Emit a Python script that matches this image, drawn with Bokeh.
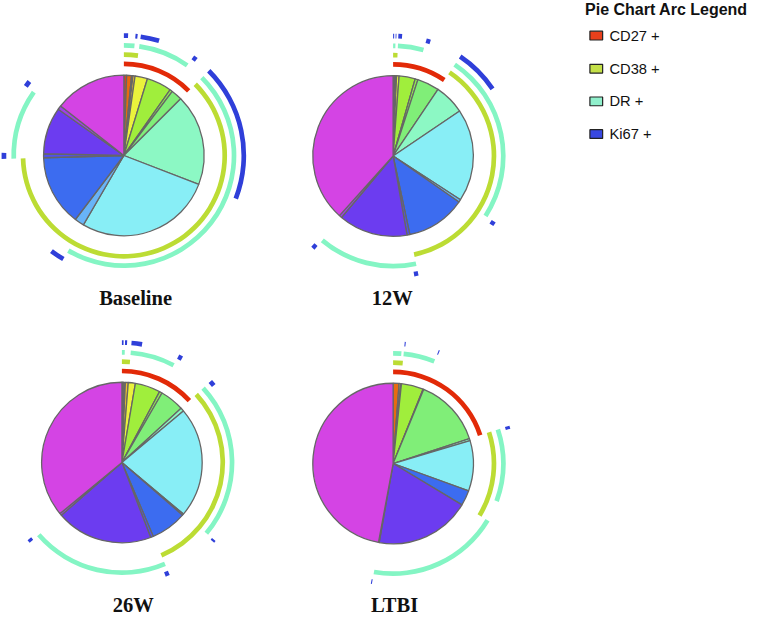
import numpy as np
from bokeh.plotting import figure
from bokeh.models import Range1d, ColumnDataSource
from bokeh.core.properties import value
from bokeh.embed import file_html
from bokeh.resources import INLINE

# 16 marker combinations (CD27, CD38, DR, Ki67)
categories = [
    "CD27+CD38+DR+Ki67+", "CD27+CD38+DR+Ki67-", "CD27+CD38+DR-Ki67+", "CD27+CD38+DR-Ki67-",
    "CD27+CD38-DR+Ki67+", "CD27+CD38-DR+Ki67-", "CD27+CD38-DR-Ki67+", "CD27+CD38-DR-Ki67-",
    "CD27-CD38+DR+Ki67+", "CD27-CD38+DR+Ki67-", "CD27-CD38+DR-Ki67+", "CD27-CD38+DR-Ki67-",
    "CD27-CD38-DR+Ki67+", "CD27-CD38-DR+Ki67-", "CD27-CD38-DR-Ki67+", "CD27-CD38-DR-Ki67-",
]
CD27 = [1, 1, 1, 1, 1, 1, 1, 1, 0, 0, 0, 0, 0, 0, 0, 0]
CD38 = [1, 1, 1, 1, 0, 0, 0, 0, 1, 1, 1, 1, 0, 0, 0, 0]
DR   = [1, 1, 0, 0, 1, 1, 0, 0, 1, 1, 0, 0, 1, 1, 0, 0]
KI67 = [1, 0, 1, 0, 1, 0, 1, 0, 1, 0, 1, 0, 1, 0, 1, 0]

slice_colors = [
    "#e04020", "#e86a10", "#f09020", "#f0c030", "#eaf23c", "#a0ee3c", "#90ee50", "#80ee78",
    "#8cf8c4", "#88eef6", "#68b4f8", "#3c6cf0", "#5050f0", "#6c3cf0", "#a040e8", "#d444e4",
]

# percentages per group
baseline = [0.56, 0.97, 0.28, 0.42, 2.5, 5.0, 0.56, 2.2, 18.3, 27.5, 1.9, 14.2, 0.8, 9.4, 0.8, 14.4]
w12 = [0.14, 0.19, 0.11, 0.25, 0.5, 3.25, 0.56, 4.44, 6.11, 18.61, 0.56, 11.94, 0.56, 13.89, 0.56, 38.33]
w26 = [0.22, 0.19, 0.28, 0.58, 1.42, 5.08, 0.56, 4.86, 0.69, 22.22, 0.28, 7.22, 0.56, 19.44, 0.42, 35.97]
ltbi = [0.0, 1.19, 0.0, 0.33, 0.14, 4.44, 0.14, 13.75, 0.42, 10.14, 0.0, 3.06, 0.0, 19.17, 0.14, 47.08]

group_names = ["Baseline", "12W", "26W", "LTBI"]
group_values = [baseline, w12, w26, ltbi]

marker_names = ["CD27 +", "CD38 +", "DR +", "Ki67 +"]
marker_flags = [CD27, CD38, DR, KI67]
arc_colors = ["#e22a08", "#bcdc34", "#84f5c4", "#2f3fd9"]
legend_colors = ["#e8401c", "#c4e048", "#90f0cc", "#3848e0"]

# ---- layout (in reference pixel units; y measured downward then flipped) ----
W, H = 765, 634
centers = [(126, 159), (401, 159.5), (124, 474), (401, 475)]
label_pos = [(138, 305.5), (400, 305.5), (135.5, 620.5), (402.5, 620.5)]
R_PIE = 82
ring_mid = [93.5, 103.0, 112.5, 122.5]
ring_half = 2.4

p = figure(width=749, height=618, output_backend="svg", toolbar_location=None,
           x_range=Range1d(0, W), y_range=Range1d(0, H), min_border=0)
p.axis.visible = False
p.grid.visible = False
p.outline_line_color = None
p.background_fill_color = "white"
p.border_fill_color = "white"


def to_bokeh(theta_deg):
    return np.radians(90.0 - np.asarray(theta_deg))


for (cx, cy_img), vals in zip(centers, group_values):
    cy = H - cy_img
    v = np.asarray(vals, dtype=float)
    cum = np.concatenate([[0.0], np.cumsum(v)]) / v.sum() * 360.0
    keep = v > 0
    src = ColumnDataSource(dict(
        start=to_bokeh(cum[:-1][keep]), end=to_bokeh(cum[1:][keep]),
        color=[c for c, k in zip(slice_colors, keep) if k],
        name=[n for n, k in zip(categories, keep) if k],
    ))
    p.wedge(x=cx, y=cy, radius=R_PIE, start_angle="start", end_angle="end",
            direction="clock", fill_color="color", line_color="#666666",
            line_width=1.3, source=src)

    # marker arcs
    for m, flags in enumerate(marker_flags):
        starts, ends = [], []
        i = 0
        while i < 16:
            if flags[i] and v[i] > 0:
                j = i
                while j + 1 < 16 and flags[j + 1]:
                    j += 1
                starts.append(cum[i])
                ends.append(cum[j + 1])
                i = j + 1
            else:
                i += 1
        if not starts:
            continue
        asrc = ColumnDataSource(dict(start=to_bokeh(starts), end=to_bokeh(ends)))
        p.annular_wedge(x=cx, y=cy, inner_radius=ring_mid[m] - ring_half,
                        outer_radius=ring_mid[m] + ring_half,
                        start_angle="start", end_angle="end", direction="clock",
                        fill_color=arc_colors[m], line_color=None, source=asrc)

# group labels
lab_src = ColumnDataSource(dict(
    x=[lp[0] for lp in label_pos], y=[H - lp[1] for lp in label_pos], text=group_names))
p.text(x="x", y="y", text="text", source=lab_src, text_font=value("Liberation Serif"),
       text_font_style="bold", text_font_size="20.5px", text_align="center",
       text_baseline="middle", text_color="#111111")

# legend
p.text(x=[597], y=[H - 9.3], text=["Pie Chart Arc Legend"], text_font=value("Liberation Sans"),
       text_font_style="bold", text_font_size="16px", text_align="left",
       text_baseline="middle", text_color="#111111")
leg_y = [36, 70, 103.5, 137]
p.rect(x=[608.5] * 4, y=[H - yy for yy in leg_y], width=13, height=9,
       fill_color=legend_colors, line_color="#222222", line_width=1.2)
p.text(x=[622] * 4, y=[H - yy for yy in leg_y], text=marker_names,
       text_font=value("Liberation Sans"), text_font_size="14.7px", text_align="left",
       text_baseline="middle", text_color="#111111")

open("out.html", "w").write(file_html(p, INLINE))
